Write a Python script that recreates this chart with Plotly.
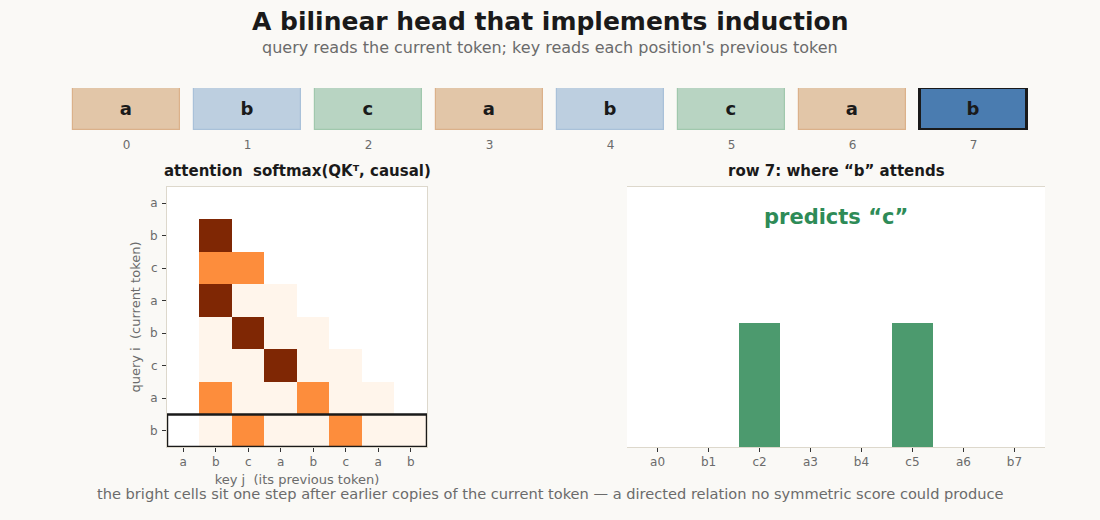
import plotly.graph_objects as go

tokens = ["a", "b", "c", "a", "b", "c", "a", "b"]
positions = [0, 1, 2, 3, 4, 5, 6, 7]
pos_labels = ["0", "1", "2", "3", "4", "5", "6", "7"]
key_labels = ["a0", "b1", "c2", "a3", "b4", "c5", "a6", "b7"]
N = None
attention = [
    [N, N, N, N, N, N, N, N],
    [N, 1.0, N, N, N, N, N, N],
    [N, 0.5, 0.5, N, N, N, N, N],
    [N, 1.0, 0.0, 0.0, N, N, N, N],
    [N, 0.0, 1.0, 0.0, 0.0, N, N, N],
    [N, 0.0, 0.0, 1.0, 0.0, 0.0, N, N],
    [N, 0.5, 0.0, 0.0, 0.5, 0.0, 0.0, N],
    [N, 0.0, 0.5, 0.0, 0.0, 0.5, 0.0, 0.0],
]
row7_weights = [0.0, 0.0, 0.5, 0.0, 0.0, 0.5, 0.0, 0.0]
query_row = 7

token_fill = {"a": "#e2c6a8", "b": "#bdcfe0", "c": "#b8d4c2"}
token_edge = {"a": "#dbb18a", "b": "#a9c1d9", "c": "#a0c8ad"}

BG = "#faf9f6"
FRAME = "#ddd8cc"
GRAY = "#6b6b6b"
DARK = "#1a1a1a"
FONT = "DejaVu Sans"

oranges = [
    [0.0, "#fff5eb"], [0.125, "#fee6ce"], [0.25, "#fdd0a2"], [0.375, "#fdae6b"],
    [0.5, "#fd8d3c"], [0.625, "#f16913"], [0.75, "#d94801"], [0.875, "#a63603"],
    [1.0, "#7f2704"],
]

fig = go.Figure()

# token strip
fills = [token_fill[t] for t in tokens]
edges = [token_edge[t] for t in tokens]
widths = [1.2] * len(tokens)
fills[query_row] = "#4a7cb0"
edges[query_row] = "#1a1a1a"
widths[query_row] = 3
fig.add_trace(go.Bar(
    x=positions, y=[1] * len(tokens), width=0.884,
    marker=dict(color=fills, line=dict(color=edges, width=widths)),
    text=tokens, texttemplate="<b>%{text}</b>", textposition="inside",
    insidetextanchor="middle", constraintext="none",
    textfont=dict(size=18, color=DARK, family=FONT),
    xaxis="x3", yaxis="y3", hoverinfo="skip", showlegend=False,
))

# heatmap
fig.add_trace(go.Heatmap(
    z=attention, x=positions, y=positions, colorscale=oranges, zmin=0, zmax=1,
    showscale=False, xaxis="x", yaxis="y", hoverinfo="skip",
))

# bar chart
fig.add_trace(go.Bar(
    x=positions, y=row7_weights, width=0.8, marker=dict(color="#4c9a6e", line=dict(width=0)),
    xaxis="x2", yaxis="y2", hoverinfo="skip", showlegend=False,
))

tickfont = dict(size=12, color=GRAY, family=FONT)
frame = dict(showline=True, linecolor=FRAME, linewidth=1, mirror=True,
             showgrid=False, zeroline=False)

fig.update_layout(
    width=1100, height=520, margin=dict(l=0, r=0, t=0, b=0),
    paper_bgcolor=BG, plot_bgcolor=BG, font=dict(family=FONT, color=DARK),
    showlegend=False, bargap=0,
    xaxis=dict(domain=[0.1518, 0.3882], range=[-0.5, 7.5], tickvals=positions, ticktext=tokens,
               ticks="outside", ticklen=4, tickcolor="#333", tickfont=tickfont,
               title=dict(text="key j\u00a0 (its previous token)", font=dict(size=13, color=GRAY), standoff=6),
               **frame),
    yaxis=dict(domain=[0.1404, 0.6404], range=[7.5, -0.5], tickvals=positions, ticktext=tokens,
               ticks="outside", ticklen=4, tickcolor="#333", tickfont=tickfont, ticklabelstandoff=2,
               title=dict(text="query i\u00a0 (current token)", font=dict(size=13, color=GRAY), standoff=6),
               **frame),
    xaxis2=dict(domain=[0.57, 0.95], range=[-0.6, 7.6], tickvals=positions, ticktext=key_labels,
                ticks="outside", ticklen=4, tickcolor="#333", tickfont=tickfont, **frame),
    yaxis2=dict(domain=[0.1404, 0.6404], range=[0, 1.05], showticklabels=False, ticks="", **frame),
    xaxis3=dict(domain=[0.06, 0.94], range=[-0.5, 7.5], tickvals=positions, ticktext=pos_labels,
                ticks="", tickfont=dict(size=12, color=GRAY, family=FONT), showline=False,
                ticklabelstandoff=6, showgrid=False, zeroline=False, anchor="y3"),
    yaxis3=dict(domain=[0.75, 0.8308], range=[0, 1], visible=False, anchor="x3"),
)

shapes = [
    dict(type="rect", xref="x domain", yref="y domain", x0=0, x1=1, y0=0, y1=1,
         fillcolor="white", line=dict(width=0), layer="below"),
    dict(type="rect", xref="x2 domain", yref="y2 domain", x0=0, x1=1, y0=0, y1=1,
         fillcolor="white", line=dict(width=0), layer="below"),
    dict(type="rect", xref="x", yref="y", x0=-0.5, x1=7.5, y0=query_row - 0.5, y1=query_row + 0.5,
         line=dict(color=DARK, width=2.5), fillcolor="rgba(0,0,0,0)", layer="above"),
]
fig.update_layout(shapes=shapes)


def ann(text, x, ypix, size, color, xref="paper"):
    return dict(text=text, x=x, y=1 - ypix / 520, xref=xref, yref="paper", showarrow=False,
                xanchor="center", yanchor="middle", font=dict(size=size, color=color))


annotations = [
    ann("<b>A bilinear head that implements induction</b>", 0.5, 22, 25, DARK),
    ann("query reads the current token; key reads each position's previous token", 0.5, 47, 16, GRAY),
    ann("<b>attention\u00a0 softmax(QKᵀ, causal)</b>", 0.27, 171, 15, DARK),
    ann("<b>row 7: where “b” attends</b>", 0.76, 171, 15, DARK),
    ann("<b>predicts “c”</b>", 0.5, 217, 21, "#2e8b57", xref="x2 domain"),
    ann("the bright cells sit one step after earlier copies of the current token — a directed relation no symmetric score could produce",
        0.5, 493, 14.6, GRAY),
]
fig.update_layout(annotations=annotations)

fig.write_html("out.html")
